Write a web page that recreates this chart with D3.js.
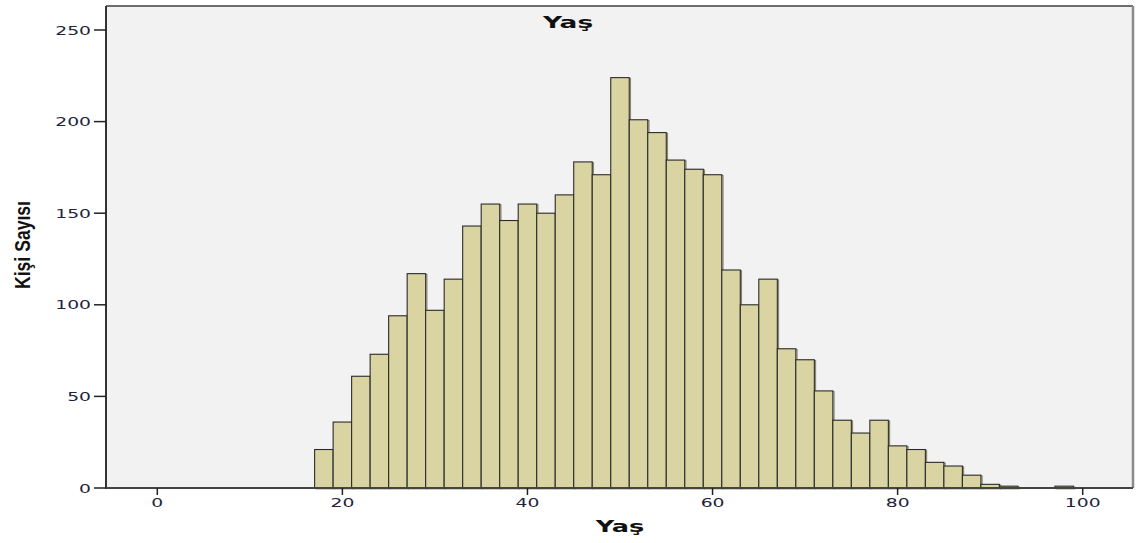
<!DOCTYPE html>
<html>
<head>
<meta charset="utf-8">
<script src="https://cdn.jsdelivr.net/npm/d3@7"></script>
<style>
  html, body { margin: 0; padding: 0; background: #ffffff; }
  svg { display: block; }
</style>
</head>
<body>
<svg id="chart" width="1136" height="543"></svg>
<script>
// ---- data ----
const binStarts = [17,19,21,23,25,27,29,31,33,35,37,39,41,43,45,47,49,51,53,55,57,59,61,63,65,67,69,71,73,75,77,79,81,83,85,87,89,91,93,95,97];
const counts    = [21,36,61,73,94,117,97,114,143,155,146,155,150,160,178,171,224,201,194,179,174,171,119,100,114,76,70,53,37,30,37,23,21,14,12,7,2,1,0,0,1];
const binWidth = 2;
const xTicks = [0,20,40,60,80,100];
const yTicks = [0,50,100,150,200,250];
const chartTitle = "Yaş";
const xTitle = "Yaş";
const yTitle = "Kişi Sayısı";

// ---- layout ----
const svg = d3.select("#chart");
const frame = {left: 106, right: 1133, top: 6, bottom: 488};
const x = d3.scaleLinear().domain([0, 100]).range([157.3, 1082.7]);
const y = d3.scaleLinear().domain([0, 250]).range([488, 30]);
const stretch = 1.5;

// plot background
svg.append("rect")
  .attr("x", frame.left).attr("y", frame.top)
  .attr("width", frame.right - frame.left).attr("height", frame.bottom - frame.top)
  .attr("fill", "#f2f2f2");

// top and right borders
svg.append("line").attr("x1", frame.left).attr("x2", frame.right)
  .attr("y1", frame.top).attr("y2", frame.top)
  .attr("stroke", "#6e6e6e").attr("stroke-width", 2);
svg.append("line").attr("x1", frame.right).attr("x2", frame.right)
  .attr("y1", frame.top).attr("y2", frame.bottom)
  .attr("stroke", "#8a8a8a").attr("stroke-width", 2.5);

// bars
const bins = binStarts.map((s, i) => ({x0: s, x1: s + binWidth, n: counts[i]})).filter(d => d.n > 0);
svg.append("g").selectAll("rect.shadow").data(bins).join("rect")
  .attr("x", d => x(d.x0) + 1.2)
  .attr("y", d => y(d.n) + 0.8)
  .attr("width", d => x(d.x1) - x(d.x0))
  .attr("height", d => y(0) - y(d.n))
  .attr("fill", "none")
  .attr("stroke", "#8a8770").attr("stroke-width", 1.2);
svg.append("g").selectAll("rect.bar").data(bins).join("rect")
  .attr("x", d => x(d.x0))
  .attr("y", d => y(d.n))
  .attr("width", d => x(d.x1) - x(d.x0))
  .attr("height", d => y(0) - y(d.n))
  .attr("fill", "#dad4a3")
  .attr("stroke", "#2b2b2b").attr("stroke-width", 1.1);

// y axis
const yAxis = svg.append("g");
yAxis.append("line").attr("x1", frame.left).attr("x2", frame.left)
  .attr("y1", frame.top).attr("y2", frame.bottom + 1)
  .attr("stroke", "#333").attr("stroke-width", 2);
const yt = yAxis.selectAll("g.tick").data(yTicks).join("g")
  .attr("transform", d => `translate(0,${y(d)})`);
yt.append("line").attr("x1", frame.left - 12).attr("x2", frame.left)
  .attr("stroke", "#222").attr("stroke-width", 1.5);
yt.append("text")
  .attr("transform", `translate(${frame.left - 15},4.5) scale(${stretch},1)`)
  .attr("text-anchor", "end")
  .attr("font-family", "DejaVu Sans, Verdana, sans-serif")
  .attr("font-size", 12.5)
  .attr("fill", "#22223a")
  .text(d => d);

// x axis
const xAxis = svg.append("g");
xAxis.append("line").attr("x1", frame.left).attr("x2", frame.right)
  .attr("y1", frame.bottom).attr("y2", frame.bottom)
  .attr("stroke", "#444").attr("stroke-width", 2);
const xt = xAxis.selectAll("g.tick").data(xTicks).join("g")
  .attr("transform", d => `translate(${x(d)},${frame.bottom})`);
xt.append("line").attr("y1", 0).attr("y2", 7)
  .attr("stroke", "#222").attr("stroke-width", 1.5);
xt.append("text")
  .attr("transform", `translate(0,19) scale(${stretch},1)`)
  .attr("text-anchor", "middle")
  .attr("font-family", "DejaVu Sans, Verdana, sans-serif")
  .attr("font-size", 12.5)
  .attr("fill", "#22223a")
  .text(d => d);

// titles
svg.append("text")
  .attr("transform", `translate(568,28) scale(1.65,1)`)
  .attr("text-anchor", "middle")
  .attr("font-family", "DejaVu Sans, Verdana, sans-serif")
  .attr("font-weight", "bold")
  .attr("font-size", 16)
  .attr("fill", "#111")
  .text(chartTitle);

svg.append("text")
  .attr("transform", `translate(620,532) scale(1.6,1)`)
  .attr("text-anchor", "middle")
  .attr("font-family", "DejaVu Sans, Verdana, sans-serif")
  .attr("font-weight", "bold")
  .attr("font-size", 16)
  .attr("fill", "#111")
  .text(xTitle);

svg.append("text")
  .attr("transform", `translate(30,245) rotate(-90) scale(0.8,1)`)
  .attr("text-anchor", "middle")
  .attr("font-family", "'Liberation Sans', Arial, sans-serif")
  .attr("font-weight", "bold")
  .attr("font-size", 22)
  .attr("fill", "#111")
  .text(yTitle);
</script>
</body>
</html>
